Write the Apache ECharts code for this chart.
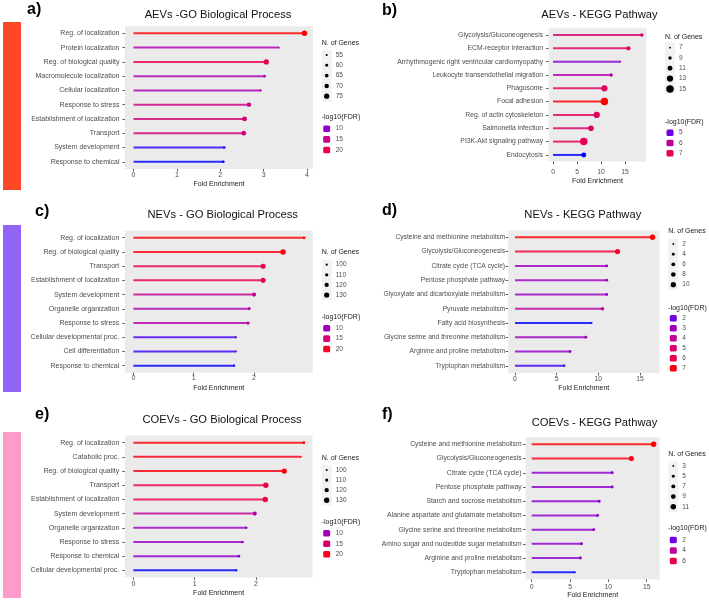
<!DOCTYPE html>
<html><head><meta charset="utf-8">
<script src="https://cdn.jsdelivr.net/npm/echarts@6/dist/echarts.min.js"></script>
<style>html,body{margin:0;padding:0;background:#fff}#c{width:709px;height:604px}</style>
</head><body><div id="c"></div>
<script>
// ---------- DATA ----------
const aTitle = 'AEVs -GO Biological Process';
const aCategories = ['Reg. of localization','Protein localization','Reg. of biological quality','Macromolecule localization','Cellular localization','Response to stress','Establishment of localization','Transport','System development','Response to chemical'];
const aFold  = [3.94, 3.35, 3.06, 3.02, 2.93, 2.66, 2.56, 2.54, 2.09, 2.07];
const aGenes = [77, 53, 75, 58, 56, 69, 72, 72, 58, 58];
const aFdr   = [24, 12.3, 19.5, 12, 11.5, 15.5, 16.5, 16.5, 6.3, 6];
const aTicks = [0, 1, 2, 3, 4];
const aSizeBreaks = [55, 60, 65, 70, 75];
const aFdrBreaks = [10, 15, 20];

const bTitle = 'AEVs - KEGG Pathway';
const bCategories = ['Glycolysis/Gluconeogenesis','ECM-receptor interaction','Arrhythmogenic right ventricular cardiomyopathy','Leukocyte transendothelial migration','Phagosome','Focal adhesion','Reg. of actin cytoskeleton','Salmonella infection','PI3K-Akt signaling pathway','Endocytosis'];
const bFold  = [18.5, 15.7, 14.0, 12.1, 10.7, 10.7, 9.1, 7.9, 6.4, 6.4];
const bGenes = [9, 10, 7, 9, 13, 15, 13, 12, 15, 11];
const bFdr   = [6.7, 6.8, 5.2, 5.8, 6.9, 7.9, 6.9, 6.7, 7.0, 4.6];
const bTicks = [0, 5, 10, 15];
const bSizeBreaks = [7, 9, 11, 13, 15];
const bFdrBreaks = [5, 6, 7];

const cTitle = 'NEVs - GO Biological Process';
const cCategories = ['Reg. of localization','Reg. of biological quality','Transport','Establishment of localization','System development','Organelle organization','Response to stress','Cellular developmental proc.','Cell differentiation','Response to chemical'];
const cFold  = [2.83, 2.48, 2.15, 2.15, 2.0, 1.92, 1.90, 1.70, 1.70, 1.67];
const cGenes = [104, 133, 128, 128, 118, 107, 110, 100, 96, 100];
const cFdr   = [21.6, 21, 17.6, 17.6, 12.9, 11, 11.5, 6.5, 6.2, 5.7];
const cTicks = [0, 1, 2];
const cSizeBreaks = [100, 110, 120, 130];
const cFdrBreaks = [10, 15, 20];

const dTitle = 'NEVs - KEGG Pathway';
const dCategories = ['Cysteine and methionine metabolism','Glycolysis/Gluconeogenesis','Citrate cycle (TCA cycle)','Pentose phosphate pathway','Glyoxylate and dicarboxylate metabolism','Pyruvate metabolism','Fatty acid biosynthesis','Glycine serine and threonine metabolism','Arginine and proline metabolism','Tryptophan metabolism'];
const dFold  = [16.5, 12.3, 11.0, 11.0, 11.0, 10.5, 9.2, 8.5, 6.6, 5.9];
const dGenes = [11, 10, 4, 4, 4, 5, 2, 4, 4, 3];
const dFdr   = [7.3, 6.5, 2.9, 2.9, 2.9, 3.8, 1.3, 2.9, 2.6, 1.5];
const dTicks = [0, 5, 10, 15];
const dSizeBreaks = [2, 4, 6, 8, 10];
const dFdrBreaks = [2, 3, 4, 5, 6, 7];

const eTitle = 'COEVs - GO Biological Process';
const eCategories = ['Reg. of localization','Catabolic proc.','Reg. of biological quality','Transport','Establishment of localization','System development','Organelle organization','Response to stress','Response to chemical','Cellular developmental proc.'];
const eFold  = [2.78, 2.73, 2.46, 2.16, 2.15, 1.98, 1.84, 1.78, 1.72, 1.68];
const eGenes = [105, 98, 128, 130, 131, 118, 105, 104, 106, 102];
const eFdr   = [21.1, 20.5, 20.8, 17.9, 17.9, 11.9, 9.2, 9.0, 8.4, 5.2];
const eTicks = [0, 1, 2];
const eSizeBreaks = [100, 110, 120, 130];
const eFdrBreaks = [10, 15, 20];

const fTitle = 'COEVs - KEGG Pathway';
const fCategories = ['Cysteine and methionine metabolism','Glycolysis/Gluconeogenesis','Citrate cycle (TCA cycle)','Pentose phosphate pathway','Starch and sucrose metabolism','Alanine aspartate and glutamate metabolism','Glycine serine and threonine metabolism','Amino sugar and nucleotide sugar metabolism','Arginine and proline metabolism','Tryptophan metabolism'];
const fFold  = [15.9, 13.0, 10.5, 10.5, 8.8, 8.6, 8.1, 6.5, 6.35, 5.65];
const fGenes = [11, 10, 5, 5, 5, 5, 5, 5, 5, 3];
const fFdr   = [7.6, 7.3, 2.5, 2.5, 2.5, 2.5, 2.5, 2.5, 2.5, 1.24];
const fTicks = [0, 5, 10, 15];
const fSizeBreaks = [3, 5, 7, 9, 11];
const fFdrBreaks = [2, 4, 6];

const axisName = 'Fold Enrichment';
const sizeLegendTitle = 'N. of Genes';
const colorLegendTitle = '-log10(FDR)';

// ---------- STYLE / LAYOUT ----------
const FONT = '"Liberation Sans", Arial, sans-serif';
const panels = [
  {letter:'a)', title:aTitle, cats:aCategories, fold:aFold, genes:aGenes, fdr:aFdr, ticks:aTicks, sb:aSizeBreaks, fb:aFdrBreaks},
  {letter:'b)', title:bTitle, cats:bCategories, fold:bFold, genes:bGenes, fdr:bFdr, ticks:bTicks, sb:bSizeBreaks, fb:bFdrBreaks},
  {letter:'c)', title:cTitle, cats:cCategories, fold:cFold, genes:cGenes, fdr:cFdr, ticks:cTicks, sb:cSizeBreaks, fb:cFdrBreaks},
  {letter:'d)', title:dTitle, cats:dCategories, fold:dFold, genes:dGenes, fdr:dFdr, ticks:dTicks, sb:dSizeBreaks, fb:dFdrBreaks},
  {letter:'e)', title:eTitle, cats:eCategories, fold:eFold, genes:eGenes, fdr:eFdr, ticks:eTicks, sb:eSizeBreaks, fb:eFdrBreaks},
  {letter:'f)', title:fTitle, cats:fCategories, fold:fFold, genes:fGenes, fdr:fFdr, ticks:fTicks, sb:fSizeBreaks, fb:fFdrBreaks}
];
const layout = [
  {grid:{left:125, top:26.2, width:188, height:142.7}, lblFs:7, yMargin:5.5, xMargin:2.6, nameGap:11.6, dMax:5.5,
   title:[218,15], letter:[27,9.5], lg:{left:321.7, t:43.3, s0:55, ss:10.3, ft:116.7, f0:128.7, fs:10.65}},
  {grid:{left:548.6, top:28.3, width:97.7, height:133.3}, lblFs:6.8, yMargin:5.5, xMargin:7, nameGap:16, dMax:7.5,
   title:[599.5,15], letter:[382,10.5], lg:{left:665, t:37.3, s0:47.7, ss:10.3, ft:121.7, f0:132.7, fs:10.3}},
  {grid:{left:124.8, top:230.6, width:187.9, height:142.2}, lblFs:7, yMargin:5.5, xMargin:2, nameGap:11.4, dMax:5.5,
   title:[222.7,215], letter:[35,212], lg:{left:321.7, t:252.3, s0:264.7, ss:10.1, ft:316.7, f0:328.3, fs:10.35}},
  {grid:{left:508.1, top:230.2, width:151.3, height:142.7}, lblFs:6.7, yMargin:3, xMargin:2.9, nameGap:11.3, dMax:5.5,
   title:[582.8,215], letter:[382,210.5], lg:{left:668.3, t:231, s0:244, ss:10.17, ft:307.7, f0:318.3, fs:10}},
  {grid:{left:124.8, top:435.6, width:187.6, height:141.8}, lblFs:7, yMargin:5.5, xMargin:3.4, nameGap:12.4, dMax:5.5,
   title:[222,420], letter:[35,414.5], lg:{left:321.7, t:457.7, s0:470, ss:10.1, ft:522.3, f0:533.3, fs:10.5}},
  {grid:{left:525.6, top:437.2, width:134.1, height:142.2}, lblFs:6.8, yMargin:4, xMargin:4.4, nameGap:12.1, dMax:5.5,
   title:[594.5,423.3], letter:[382,414.5], lg:{left:668.3, t:454.3, s0:466, ss:10.2, ft:527.7, f0:540, fs:10.5}}
];
const sideBars = [
  {x:3, y:22, w:18, h:168, c:'#fe4727'},
  {x:3, y:225, w:18, h:167, c:'#9263f7'},
  {x:3, y:432, w:18, h:166, c:'#fd9bcb'}
];

// ---------- colour (Lab gradient blue -> red, like ggplot) ----------
function s2l(c){c/=255;return c<=0.04045?c/12.92:Math.pow((c+0.055)/1.055,2.4);}
function l2s(c){c=Math.max(0,Math.min(1,c));const v=c<=0.0031308?12.92*c:1.055*Math.pow(c,1/2.4)-0.055;return Math.round(v*255);}
function rgbToLab(rgb){const R=s2l(rgb[0]),G=s2l(rgb[1]),B=s2l(rgb[2]);
  const X=(0.4124*R+0.3576*G+0.1805*B)/0.95047,Y=0.2126*R+0.7152*G+0.0722*B,Z=(0.0193*R+0.1192*G+0.9505*B)/1.08883;
  const f=t=>t>0.008856?Math.cbrt(t):7.787*t+16/116;const fx=f(X),fy=f(Y),fz=f(Z);
  return [116*fy-16,500*(fx-fy),200*(fy-fz)];}
function labToRgb(lab){const fy=(lab[0]+16)/116,fx=fy+lab[1]/500,fz=fy-lab[2]/200;
  const fi=t=>t>0.206893?t*t*t:(t-16/116)/7.787;
  const X=fi(fx)*0.95047,Y=fi(fy),Z=fi(fz)*1.08883;
  const R=3.2406*X-1.5372*Y-0.4986*Z,G=-0.9689*X+1.8758*Y+0.0415*Z,B=0.0557*X-0.2040*Y+1.0570*Z;
  return 'rgb('+l2s(R)+','+l2s(G)+','+l2s(B)+')';}
const LOW=rgbToLab([0,0,255]), HIGH=rgbToLab([255,0,0]);
function gradColor(v,lo,hi){const t=Math.max(0,Math.min(1,(v-lo)/(hi-lo)));return labToRgb(LOW.map((x,i)=>x+(HIGH[i]-x)*t));}
function sizeFor(n,lo,hi,dMin,dMax){const t=(Math.sqrt(n)-Math.sqrt(lo))/(Math.sqrt(hi)-Math.sqrt(lo));return dMin+Math.max(0,Math.min(1,t))*(dMax-dMin);}

// ---------- build option ----------
const grids=[], xAxes=[], yAxes=[], series=[], graphics=[];
function txt(s,x,y,fs,color,align,weight,family){
  return {type:'text', silent:true, style:{text:s, x:x, y:y, fill:color, fontSize:fs, fontFamily:family||FONT, fontWeight:weight||'normal',
    align:align, verticalAlign:'middle', textAlign:align, textVerticalAlign:'middle'}};
}
sideBars.forEach(b=>graphics.push({type:'rect', silent:true, shape:{x:b.x,y:b.y,width:b.w,height:b.h}, style:{fill:b.c}}));

panels.forEach((p,i)=>{
  const L=layout[i];
  const M=Math.max(...p.fold);
  const gLo=Math.min(...p.genes), gHi=Math.max(...p.genes);
  const cLo=Math.min(...p.fdr), cHi=Math.max(...p.fdr);
  const colors=p.fdr.map(v=>gradColor(v,cLo,cHi));
  const sizes=p.genes.map(n=>sizeFor(n,gLo,gHi,1.8,L.dMax));
  grids.push(Object.assign({show:true, backgroundColor:'#ebebeb', borderWidth:0}, L.grid));
  xAxes.push({type:'value', gridIndex:i, min:-0.05*M, max:1.05*M,
    axisLine:{show:false, onZero:false}, splitLine:{show:false},
    axisTick:{show:true, length:2.5, customValues:p.ticks, lineStyle:{color:'#333', width:0.8}},
    axisLabel:{customValues:p.ticks, fontSize:L.lblFs, color:'#4d4d4d', fontFamily:FONT, margin:L.xMargin},
    name:axisName, nameLocation:'middle', nameGap:L.nameGap, nameTextStyle:{fontSize:7, color:'#1a1a1a', fontFamily:FONT}});
  yAxes.push({type:'category', gridIndex:i, data:p.cats, inverse:true,
    axisLine:{show:false, onZero:false}, splitLine:{show:false},
    axisTick:{show:true, alignWithLabel:true, length:2.5, lineStyle:{color:'#333', width:0.8}},
    axisLabel:{fontSize:L.lblFs, color:'#4d4d4d', fontFamily:FONT, margin:L.yMargin}});
  series.push({type:'custom', xAxisIndex:i, yAxisIndex:i, silent:true,
    data:p.cats.map((c,j)=>[p.fold[j], j]), encode:{x:0, y:1},
    renderItem:function(params, api){
      const y=api.value(1), v=api.value(0);
      const p0=api.coord([0,y]), p1=api.coord([v,y]);
      return {type:'line', shape:{x1:p0[0],y1:p0[1],x2:p1[0],y2:p1[1]},
        style:{stroke:colors[params.dataIndex], lineWidth:2, opacity:0.82}};
    }});
  series.push({type:'scatter', xAxisIndex:i, yAxisIndex:i, silent:true,
    data:p.cats.map((c,j)=>({value:[p.fold[j], c], symbolSize:sizes[j], itemStyle:{color:colors[j], opacity:1}}))});
  graphics.push(txt(p.title, L.title[0], L.title[1], 11.2, '#111', 'center'));
  graphics.push(txt(p.letter, L.letter[0], L.letter[1], 16, '#000', 'left', 'bold'));
  const g=L.lg, keyX=g.left+5, labX=g.left+14;
  graphics.push(txt(sizeLegendTitle, g.left, g.t, 7, '#1a1a1a', 'left'));
  p.sb.forEach((b,k)=>{
    const y=g.s0+k*g.ss;
    graphics.push({type:'rect', silent:true, shape:{x:keyX-5, y:y-g.ss/2, width:10, height:g.ss}, style:{fill:'#f2f2f2'}});
    graphics.push({type:'circle', silent:true, shape:{cx:keyX, cy:y, r:sizeFor(b,gLo,gHi,1.8,L.dMax)/2}, style:{fill:'#000'}});
    graphics.push(txt(String(b), labX, y, 6.5, '#4d4d4d', 'left'));
  });
  graphics.push(txt(colorLegendTitle, g.left, g.ft, 7, '#1a1a1a', 'left'));
  p.fb.forEach((b,k)=>{
    const y=g.f0+k*g.fs;
    graphics.push({type:'rect', silent:true, shape:{x:keyX-3.5, y:y-3.3, width:7, height:6.6, r:1.5}, style:{fill:gradColor(b,cLo,cHi)}});
    graphics.push(txt(String(b), labX, y, 6.5, '#4d4d4d', 'left'));
  });
});

const chart=echarts.init(document.getElementById('c'), null, {renderer:'canvas'});
chart.setOption({backgroundColor:'#fff', animation:false, grid:grids, xAxis:xAxes, yAxis:yAxes, series:series, graphic:{elements:graphics}});
</script></body></html>
